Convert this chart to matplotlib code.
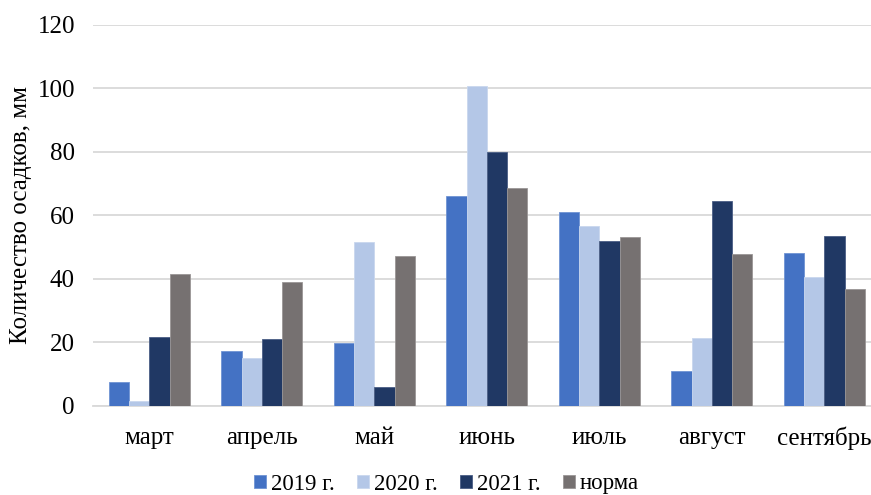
import matplotlib
matplotlib.use("Agg")
import matplotlib.pyplot as plt
import numpy as np

plt.rcParams['font.family'] = ['Liberation Serif', 'DejaVu Serif']

months = ["март", "апрель", "май", "июнь", "июль", "август", "сентябрь"]
series_names = ["2019 г.", "2020 г.", "2021 г.", "норма"]
v2019 = [7.6, 17.3, 19.7, 66.0, 61.0, 10.9, 48.1]
v2020 = [1.5, 14.9, 51.5, 100.7, 56.6, 21.4, 40.4]
v2021 = [21.7, 21.1, 6.0, 80.0, 51.9, 64.4, 53.5]
norm = [41.4, 39.0, 47.0, 68.5, 53.2, 47.8, 36.7]
colors = ["#4472C4", "#B4C7E7", "#203864", "#767171"]
edges = ["#6F93D3", "#C9D7EE", "#4A5E85", "#9A9696"]

W, H = 871, 495
fig = plt.figure(figsize=(W/100, H/100), dpi=100)
left = 93 / W
width = 787.5 / W
bottom = (H - 405.7) / H
top_px = 24.7
height = (405.7 - top_px) / H
ax = fig.add_axes([left, bottom, width, height])

x = np.arange(len(months))
bw = 0.18
data = [v2019, v2020, v2021, norm]
for i, (vals, c, e, name) in enumerate(zip(data, colors, edges, series_names)):
    ax.bar(x + (i - 1.5) * bw, vals, width=bw, color=c, edgecolor=e,
           linewidth=0.6, label=name, zorder=3)

fs = 18
ax.set_xlim(-0.5, len(months) - 0.5)
ax.set_ylim(0, 120)
ax.set_yticks(range(0, 121, 20))
ax.yaxis.grid(True, color="#D9D9D9", linewidth=1.3, zorder=0)
ax.set_axisbelow(True)
for s in ["top", "right", "left"]:
    ax.spines[s].set_visible(False)
ax.spines["bottom"].set_color("#D9D9D9")
ax.spines["bottom"].set_linewidth(1.3)
ax.tick_params(axis="both", length=0, labelsize=fs, colors="#000000")
ax.tick_params(axis="y", pad=13)
ax.tick_params(axis="x", pad=15)
ax.set_xticks(x)
ax.set_xticklabels(months)
ax.set_ylabel("Количество осадков, мм", fontsize=fs, labelpad=4)

fig.legend(loc="center", bbox_to_anchor=(446.5 / W, 11 / H), ncol=4, frameon=False,
           fontsize=16.5, handlelength=0.52, handleheight=0.52, handletextpad=0.2,
           columnspacing=1.0, borderpad=0)

fig.savefig("out.png", dpi=100)
